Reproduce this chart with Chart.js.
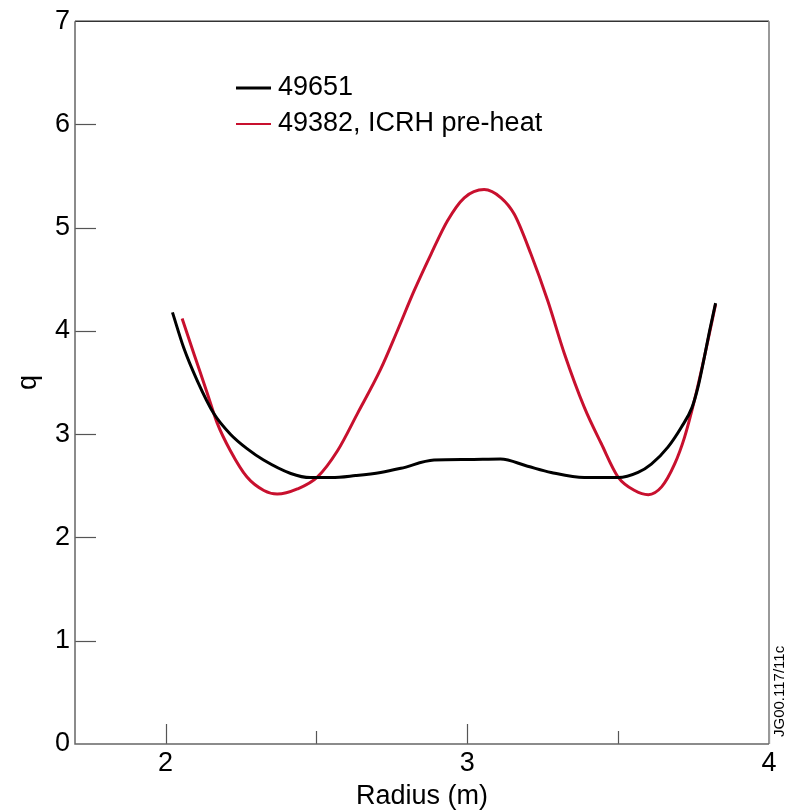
<!DOCTYPE html>
<html>
<head>
<meta charset="utf-8">
<script src="https://cdn.jsdelivr.net/npm/chart.js@4/dist/chart.umd.min.js"></script>
<style>
  html, body { margin: 0; padding: 0; background: #fff; }
  #wrap { width: 789px; height: 810px; }
</style>
</head>
<body>
<div id="wrap"><canvas id="grafico" width="789" height="810"></canvas></div>
<script>
// shot 49651
const radio49651 = [2.023, 2.06, 2.105, 2.16, 2.215, 2.27, 2.325, 2.415, 2.48, 2.55, 2.63, 2.713, 2.78, 2.89, 3.00, 3.11, 3.20, 3.278, 3.388, 3.50, 3.566, 3.61, 3.665, 3.71, 3.745, 3.765, 3.786, 3.803, 3.823];
const q49651 = [4.18, 3.84, 3.52, 3.20, 3.00, 2.86, 2.75, 2.62, 2.58, 2.58, 2.60, 2.63, 2.67, 2.75, 2.755, 2.76, 2.69, 2.63, 2.58, 2.58, 2.63, 2.71, 2.875, 3.07, 3.26, 3.46, 3.75, 4.0, 4.27];

// shot 49382, ICRH pre-heat
const radio49382 = [2.055, 2.094, 2.138, 2.171, 2.215, 2.27, 2.326, 2.37, 2.437, 2.503, 2.57, 2.636, 2.713, 2.768, 2.824, 2.88, 2.935, 2.99, 3.056, 3.112, 3.156, 3.211, 3.267, 3.322, 3.388, 3.444, 3.50, 3.555, 3.60, 3.644, 3.687, 3.72, 3.753, 3.786, 3.823];
const q49382 = [4.12, 3.78, 3.40, 3.11, 2.84, 2.585, 2.455, 2.42, 2.47, 2.585, 2.84, 3.20, 3.63, 4.0, 4.39, 4.745, 5.07, 5.29, 5.37, 5.29, 5.13, 4.745, 4.29, 3.78, 3.26, 2.91, 2.585, 2.455, 2.415, 2.49, 2.71, 2.97, 3.33, 3.75, 4.26];

const etiquetas = ['49651', '49382, ICRH pre-heat'];
const ticksX = [2, 3, 4];
const ticksXMenores = [2.5, 3.5];
const ticksY = [0, 1, 2, 3, 4, 5, 6, 7];

const FUENTE = '"Liberation Sans", Arial, sans-serif';

function puntos(xs, ys) {
    return xs.map((x, i) => ({ x: x, y: ys[i] }));
}

// marco, marcas hacia dentro, leyenda y codigo de figura
const extras = {
    id: 'extras',
    afterDraw(chart) {
        const ctx = chart.ctx;
        const a = chart.chartArea;
        const sx = chart.scales.x;
        const sy = chart.scales.y;
        ctx.save();

        // marcas
        ctx.strokeStyle = '#555';
        ctx.lineWidth = 1.2;
        ticksX.forEach(v => {
            const px = Math.round(sx.getPixelForValue(v)) + 0.5;
            ctx.beginPath(); ctx.moveTo(px, a.bottom); ctx.lineTo(px, a.bottom - 20); ctx.stroke();
        });
        ticksXMenores.forEach(v => {
            const px = Math.round(sx.getPixelForValue(v)) + 0.5;
            ctx.beginPath(); ctx.moveTo(px, a.bottom); ctx.lineTo(px, a.bottom - 13); ctx.stroke();
        });
        ticksY.slice(1, -1).forEach(v => {
            const py = Math.round(sy.getPixelForValue(v)) + 0.5;
            ctx.beginPath(); ctx.moveTo(a.left, py); ctx.lineTo(a.left + 21, py); ctx.stroke();
        });

        // marco
        ctx.lineWidth = 1.5;
        ctx.strokeStyle = '#333';
        ctx.beginPath(); ctx.moveTo(a.left, a.top); ctx.lineTo(a.right, a.top); ctx.stroke();
        ctx.strokeStyle = '#999';
        ctx.lineWidth = 2;
        ctx.beginPath(); ctx.moveTo(a.right, a.top); ctx.lineTo(a.right, a.bottom); ctx.stroke();
        ctx.strokeStyle = '#666';
        ctx.lineWidth = 1.5;
        ctx.beginPath(); ctx.moveTo(a.left, a.top); ctx.lineTo(a.left, a.bottom); ctx.lineTo(a.right, a.bottom); ctx.stroke();

        // leyenda
        ctx.font = '27px ' + FUENTE;
        ctx.textBaseline = 'middle';
        ctx.textAlign = 'left';
        chart.data.datasets.forEach((ds, i) => {
            const y = 88 + i * 36;
            ctx.strokeStyle = ds.borderColor;
            ctx.lineWidth = i === 0 ? 3 : 2;
            ctx.beginPath(); ctx.moveTo(236, y); ctx.lineTo(271, y); ctx.stroke();
            ctx.fillStyle = '#000';
            ctx.fillText(ds.label, 278, y);
        });

        // codigo de figura
        ctx.translate(780, 737);
        ctx.rotate(-Math.PI / 2);
        ctx.font = '15px ' + FUENTE;
        ctx.fillText('JG00.117/11c', 0, 0);
        ctx.restore();
    }
};

const ctx = document.getElementById('grafico').getContext('2d');
new Chart(ctx, {
    type: 'scatter',
    data: {
        datasets: [
            {
                label: etiquetas[0],
                data: puntos(radio49651, q49651),
                showLine: true,
                borderColor: '#000000',
                borderWidth: 3,
                pointRadius: 0,
                cubicInterpolationMode: 'monotone'
            },
            {
                label: etiquetas[1],
                data: puntos(radio49382, q49382),
                showLine: true,
                borderColor: '#c8102e',
                borderWidth: 3,
                pointRadius: 0,
                cubicInterpolationMode: 'monotone'
            }
        ]
    },
    options: {
        responsive: false,
        animation: false,
        layout: { padding: { top: 20, right: 20, left: 0, bottom: 0 } },
        plugins: {
            legend: { display: false },
            tooltip: { enabled: false }
        },
        scales: {
            x: {
                type: 'linear',
                min: 1.7,
                max: 4,
                afterBuildTicks: s => { s.ticks = ticksX.map(v => ({ value: v })); },
                afterFit: s => { s.height = 66; },
                grid: { display: false, drawTicks: false },
                border: { display: false },
                ticks: {
                    color: '#000',
                    padding: 3,
                    maxRotation: 0,
                    font: { size: 27, family: FUENTE },
                    callback: v => String(v)
                },
                title: {
                    display: true,
                    text: 'Radius (m)',
                    color: '#000',
                    padding: { top: 0, bottom: -3 },
                    font: { size: 27, family: FUENTE }
                }
            },
            y: {
                min: 0,
                max: 7,
                afterBuildTicks: s => { s.ticks = ticksY.map(v => ({ value: v })); },
                afterFit: s => { s.width = 75; },
                grid: { display: false, drawTicks: false },
                border: { display: false },
                ticks: {
                    color: '#000',
                    padding: 5,
                    font: { size: 27, family: FUENTE },
                    callback: v => String(v)
                },
                title: {
                    display: true,
                    text: 'q',
                    color: '#000',
                    padding: { top: 12, bottom: 0 },
                    font: { size: 27, family: FUENTE }
                }
            }
        }
    },
    plugins: [extras]
});
</script>
</body>
</html>
